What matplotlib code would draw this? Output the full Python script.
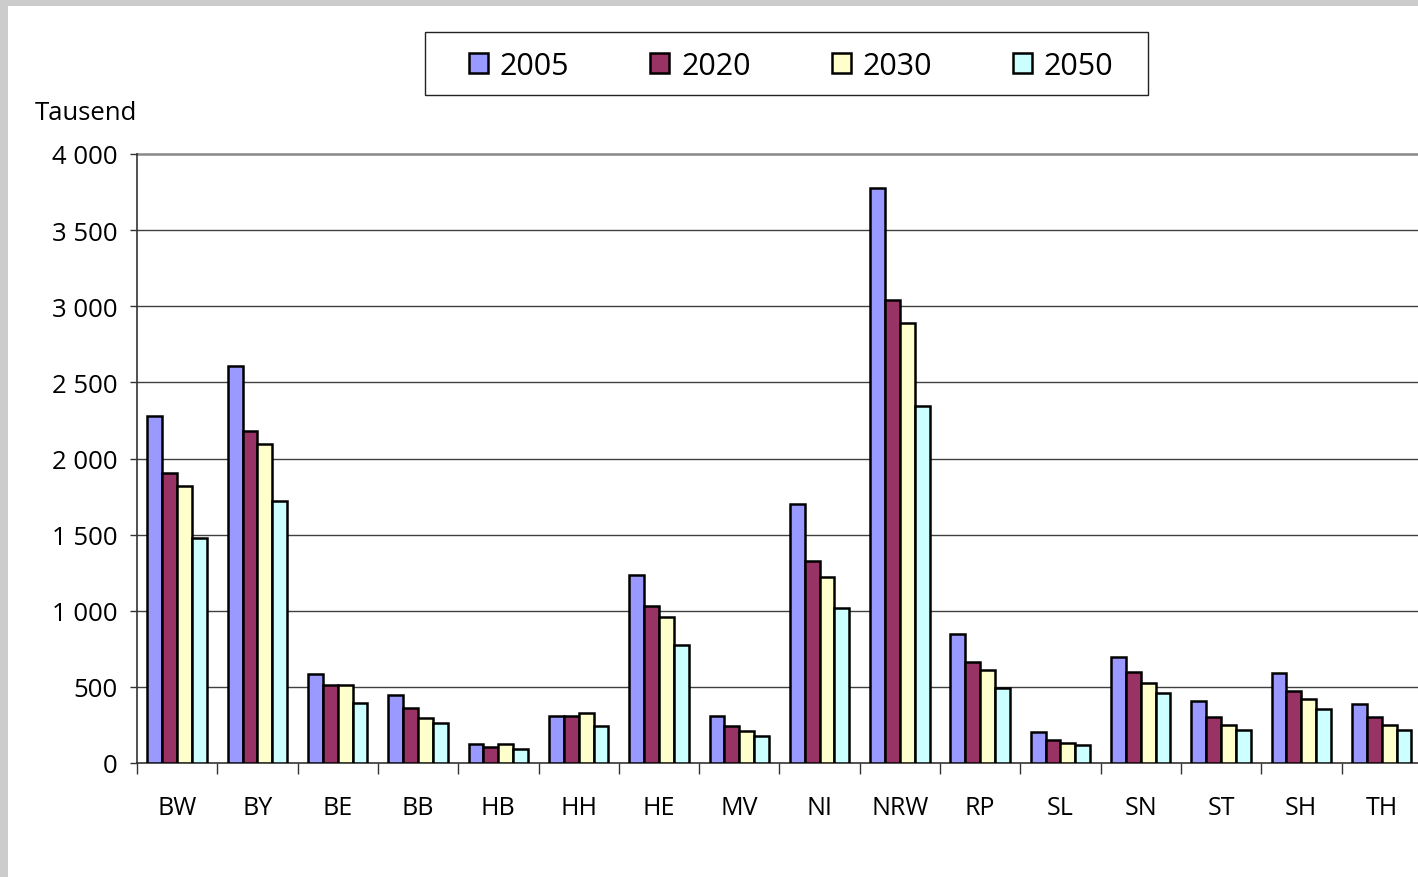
import matplotlib
matplotlib.use("Agg")
import matplotlib.pyplot as plt
from matplotlib.patches import Rectangle
from matplotlib.ticker import FuncFormatter, FixedLocator
import numpy as np

plt.rcParams['font.family'] = ['Open Sans', 'DejaVu Sans']

categories = ["BW", "BY", "BE", "BB", "HB", "HH", "HE", "MV", "NI", "NRW",
              "RP", "SL", "SN", "ST", "SH", "TH"]
series_names = ["2005", "2020", "2030", "2050"]
v2005 = [2280, 2605, 582, 445, 123, 310, 1232, 310, 1700, 3775, 848, 201, 694, 407, 593, 390]
v2020 = [1907, 2183, 510, 360, 106, 310, 1028, 244, 1325, 3043, 661, 149, 595, 304, 473, 304]
v2030 = [1822, 2095, 510, 296, 123, 330, 957, 208, 1222, 2892, 608, 131, 523, 252, 420, 252]
v2050 = [1480, 1720, 394, 262, 93, 244, 772, 176, 1015, 2346, 490, 116, 457, 219, 354, 219]
series = [v2005, v2020, v2030, v2050]
colors = ["#9999FF", "#993366", "#FFFFCC", "#CCFFFF"]
yticks = [0, 500, 1000, 1500, 2000, 2500, 3000, 3500, 4000]

W, H = 1418, 878
fig = plt.figure(figsize=(W / 100, H / 100), dpi=100)
fig.patch.set_facecolor("white")

# gray frame strips (top and left)
fig.patches.append(Rectangle((0, 1 - 7 / H), 1, 7 / H, transform=fig.transFigure,
                             facecolor="#cccccc", edgecolor="none", zorder=0))
fig.patches.append(Rectangle((0, 0), 8 / W, 1, transform=fig.transFigure,
                             facecolor="#cccccc", edgecolor="none", zorder=0))

left = 137 / W
bottom = 1 - 764 / H
top = 1 - 155 / H
width = 16 * 80.3 / W
ax = fig.add_axes([left, bottom, width, top - bottom])

x = np.arange(len(categories))
bw = 0.185
handles = []
for i, (vals, c, name) in enumerate(zip(series, colors, series_names)):
    b = ax.bar(x + (i - 1.5) * bw, vals, width=bw, color=c, edgecolor="black",
               linewidth=1.8, label=name, zorder=3)
    handles.append(b)

ax.set_xlim(-0.5, len(categories) - 0.5)
ax.set_ylim(0, 4000)

# gridlines
for yv in yticks[1:-1]:
    ax.axhline(yv, color="#404040", linewidth=1.0, zorder=1)
ax.axhline(4000, color="#888888", linewidth=1.8, zorder=1, clip_on=False)

ax.spines["top"].set_visible(False)
ax.spines["right"].set_visible(False)
ax.spines["left"].set_color("#333333")
ax.spines["left"].set_linewidth(1.2)
ax.spines["bottom"].set_color("#333333")
ax.spines["bottom"].set_linewidth(1.2)

ax.set_yticks(yticks)
ax.yaxis.set_major_formatter(FuncFormatter(lambda v, p: f"{int(v):,}".replace(",", " ")))
ax.tick_params(axis="y", direction="out", length=5, width=1, color="#333333",
               labelsize=18.5, pad=9)

ax.set_xticks(x)
ax.set_xticklabels(categories)
ax.xaxis.set_minor_locator(FixedLocator(np.arange(-0.5, len(categories), 1.0)))
ax.tick_params(axis="x", which="major", length=0, labelsize=18, pad=23)
ax.tick_params(axis="x", which="minor", direction="out", length=8, width=1, color="#333333")

fig.text(35 / W, 1 - 114 / H, "Tausend", fontsize=18.5, ha="left", va="center")

# legend frame
fig.patches.append(Rectangle((425 / W, 1 - 96 / H), (1148 - 425) / W, (96 - 33) / H,
                             transform=fig.transFigure, facecolor="white",
                             edgecolor="#222222", linewidth=1.0, zorder=1))

leg = fig.legend(handles=handles, labels=series_names, loc="center left",
                 bbox_to_anchor=(469 / W, 1 - 67 / H), ncol=4,
                 fontsize=22, frameon=False,
                 handlelength=0.62, handleheight=0.62, handletextpad=0.38,
                 columnspacing=2.66, borderpad=0, borderaxespad=0)
leg.set_zorder(5)

fig.savefig("out.png", dpi=100, facecolor="white")
